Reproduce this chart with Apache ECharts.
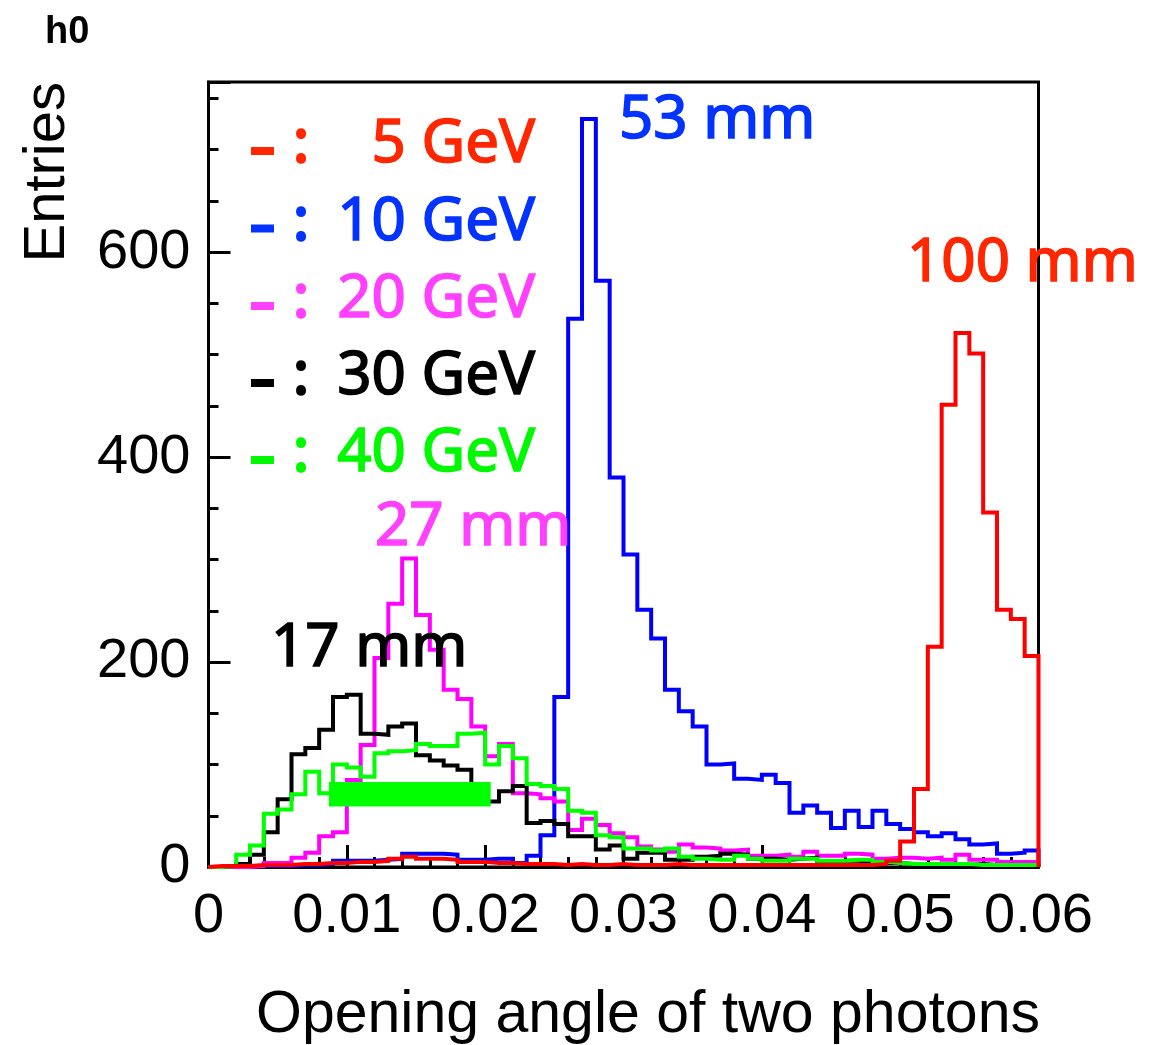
<!DOCTYPE html>
<html>
<head>
<meta charset="utf-8">
<script src="https://cdn.jsdelivr.net/npm/echarts@6/dist/echarts.min.js"></script>
<style>
  html, body { margin: 0; padding: 0; background: #fff; }
  #chart { width: 1167px; height: 1045px; }
</style>
</head>
<body>
<div id="chart"></div>
<script>
// ---- Data (60 bins of width 0.001 between 0 and 0.06) ----
const binWidth = 0.001;
const xTicks = ['0', '0.01', '0.02', '0.03', '0.04', '0.05', '0.06'];
const yTicks = [0, 200, 400, 600];
const seriesNames = ['5 GeV', '10 GeV', '20 GeV', '30 GeV', '40 GeV'];
const peakLabels = ['100 mm', '53 mm', '27 mm', '17 mm'];

const gev5 = [1,1,1,2,2,2,3,3,4,4,5,5,6,
  8,10,8,8,7,5,5,4,4,3,3,
  3,2,3,2,2,3,2,2,2,3,2,2,2,2,2,2,2,2,2,2,2,2,2,2,
  3,6,25,76,215,451,521,501,346,251,242,206];
const gev10 = [0,0,0,1,1,1,
  2,2,3,6,6,6,7,8,
  13,13,13,12,7,7,8,8,4,11,31,
  166,535,730,572,380,305,251,223,173,152,137,100,
  101,86,85,90,82,53,60,53,38,55,39,55,
  42,37,34,30,33,27,22,23,13,14,16];
const gev20 = [0,0,0,1,4,4,9,14,30,34,
  85,119,204,257,301,246,212,173,164,137,
  108,120,72,71,67,64,36,47,41,33,
  29,20,17,15,22,19,18,16,17,11,
  11,12,10,15,11,11,13,12,8,9,
  9,8,9,7,12,7,7,5,5,5];
const gev30 = [0,1,3,12,34,66,110,116,134,166,
  168,130,129,137,140,109,104,99,95,72,
  64,74,79,43,45,42,30,30,17,21,
  8,14,14,7,7,10,11,13,12,8,
  8,7,8,9,5,6,6,5,4,4,
  3,3,2,3,2,3,2,2,2,1];
const gev40 = [0,1,12,21,52,56,71,93,72,100,
  97,88,111,113,114,120,118,118,130,131,
  100,118,106,81,79,76,55,53,31,29,
  18,18,16,18,10,8,7,7,11,8,
  6,6,8,8,6,6,7,7,5,4,
  3,3,3,3,3,2,2,2,2,2];
// green band: [xFrom, xTo, yFrom, yTo] in data units
const greenBand = [0.0087, 0.0204, 59, 83];

// ---- helpers ----
function histPoints(vals) {
  const pts = [[0, 0]];
  for (let i = 0; i < vals.length; i++) pts.push([+(i * binWidth).toFixed(4), vals[i]]);
  const xe = +(vals.length * binWidth).toFixed(4);
  pts.push([xe, vals[vals.length - 1]]);
  pts.push([xe, 0]);
  return pts;
}
const lineColors = ['#ff0000', '#0000ff', '#ff00ff', '#000000', '#00ff00'];
const textColors = ['#ff2600', '#0433ff', '#ff40ff', '#000000', '#00f900'];
const allVals = [gev5, gev10, gev20, gev30, gev40];
const zOrder = [6, 2, 3, 4, 5];

const chart = echarts.init(document.getElementById('chart'), null, { renderer: 'canvas' });

const G = { left: 208.5, right: 128.5, top: 82, bottom: 178 };
const TICKFONT = 'Liberation Sans, Arial, Helvetica, sans-serif';
const ANNFONT = '"Noto Sans", sans-serif';
const ANNSTYLE = '60px ' + ANNFONT;
const ANNSTROKE = 1.6;

const series = allVals.map((v, i) => ({
  name: seriesNames[i],
  type: 'line',
  step: 'end',
  xAxisIndex: 0, yAxisIndex: 0,
  data: histPoints(v),
  showSymbol: false,
  symbol: 'none',
  lineStyle: { color: lineColors[i], width: 4, join: 'miter', cap: 'butt' },
  itemStyle: { color: lineColors[i] },
  z: zOrder[i],
  silent: true,
  animation: false
}));
series.push({
  type: 'custom',
  xAxisIndex: 0, yAxisIndex: 0,
  z: 10,
  silent: true,
  animation: false,
  data: [greenBand],
  renderItem: function (params, api) {
    const p0 = api.coord([api.value(0), api.value(3)]);
    const p1 = api.coord([api.value(1), api.value(2)]);
    return { type: 'rect', shape: { x: p0[0], y: p0[1], width: p1[0] - p0[0], height: p1[1] - p0[1] },
             style: { fill: '#00ff00' } };
  },
  encode: { x: [0, 1], y: [2, 3] }
});

const graphics = [];
// h0 stats label
graphics.push({ type: 'text', left: 45, top: 14,
  style: { text: 'h0', font: 'bold 38px ' + TICKFONT, fill: '#000' } });
// y axis title
graphics.push({ type: 'text', x: 48, y: 82, rotation: Math.PI / 2,
  style: { text: 'Entries', font: '58px ' + TICKFONT, fill: '#000', align: 'right', verticalAlign: 'middle' } });
// x axis title
graphics.push({ type: 'text', x: 1040, y: 1016,
  style: { text: 'Opening angle of two photons', font: '59px ' + TICKFONT, fill: '#000', align: 'right', verticalAlign: 'middle' } });
// legend rows
const legendY = [145, 222.5, 300, 377, 454];
for (let i = 0; i < 5; i++) {
  graphics.push({ type: 'rect', shape: { x: 251, y: legendY[i] + 2, width: 23, height: 8 },
    style: { fill: textColors[i] }, z: 20 });
  graphics.push({ type: 'text', x: 301, y: legendY[i], z: 20,
    style: { text: ':', font: ANNSTYLE, fill: textColors[i], stroke: textColors[i], lineWidth: ANNSTROKE + 1,
             align: 'center', verticalAlign: 'middle' } });
  graphics.push({ type: 'text', x: 535, y: legendY[i], z: 20,
    style: { text: seriesNames[i], font: ANNSTYLE, fill: textColors[i], stroke: textColors[i], lineWidth: ANNSTROKE,
             align: 'right', verticalAlign: 'middle' } });
}
// peak annotations
const annPos = [[907, 264, '#ff2600'], [619, 121, '#0433ff'], [375, 528, '#ff40ff'], [271, 649, '#000000']];
for (let i = 0; i < peakLabels.length; i++) {
  graphics.push({ type: 'text', x: annPos[i][0], y: annPos[i][1], z: 20,
    style: { text: peakLabels[i], font: ANNSTYLE, fill: annPos[i][2], stroke: annPos[i][2], lineWidth: ANNSTROKE,
             align: 'left', verticalAlign: 'middle' } });
}

const option = {
  animation: false,
  backgroundColor: '#ffffff',
  grid: { left: G.left, right: G.right, top: G.top, bottom: G.bottom, show: true, borderColor: '#000', borderWidth: 3, backgroundColor: 'transparent' },
  xAxis: [
    {
      type: 'value', min: 0, max: 0.06, interval: 0.01, position: 'bottom',
      axisLine: { show: true, lineStyle: { color: '#000', width: 3 } },
      axisTick: { show: true, inside: true, length: 22, lineStyle: { color: '#000', width: 3 } },
      minorTick: { show: true, splitNumber: 5, length: 10, lineStyle: { color: '#000', width: 3 } },
      splitLine: { show: false },
      axisLabel: {
        fontSize: 56, fontFamily: TICKFONT, color: '#000', margin: 22,
        formatter: function (v) { const i = Math.round(v / 0.01); return xTicks[i] !== undefined ? xTicks[i] : ''; }
      }
    }
  ],
  yAxis: [
    {
      type: 'value', min: 0, max: 766, interval: 200, position: 'left',
      axisLine: { show: true, lineStyle: { color: '#000', width: 3 } },
      axisTick: { show: true, inside: true, length: 22, lineStyle: { color: '#000', width: 3 } },
      splitLine: { show: false },
      axisLabel: {
        fontSize: 56, fontFamily: TICKFONT, color: '#000', margin: 18,
        formatter: function (v) { return yTicks.indexOf(v) >= 0 ? String(v) : ''; }
      }
    },
    {
      type: 'value', min: 0, max: 766, interval: 50, position: 'left', offset: 0,
      axisLine: { show: false },
      axisTick: { show: true, inside: true, length: 10, lineStyle: { color: '#000', width: 3 } },
      splitLine: { show: false },
      axisLabel: { show: false }
    }
  ],
  series: series,
  graphic: graphics
};
chart.setOption(option);
</script>
</body>
</html>
